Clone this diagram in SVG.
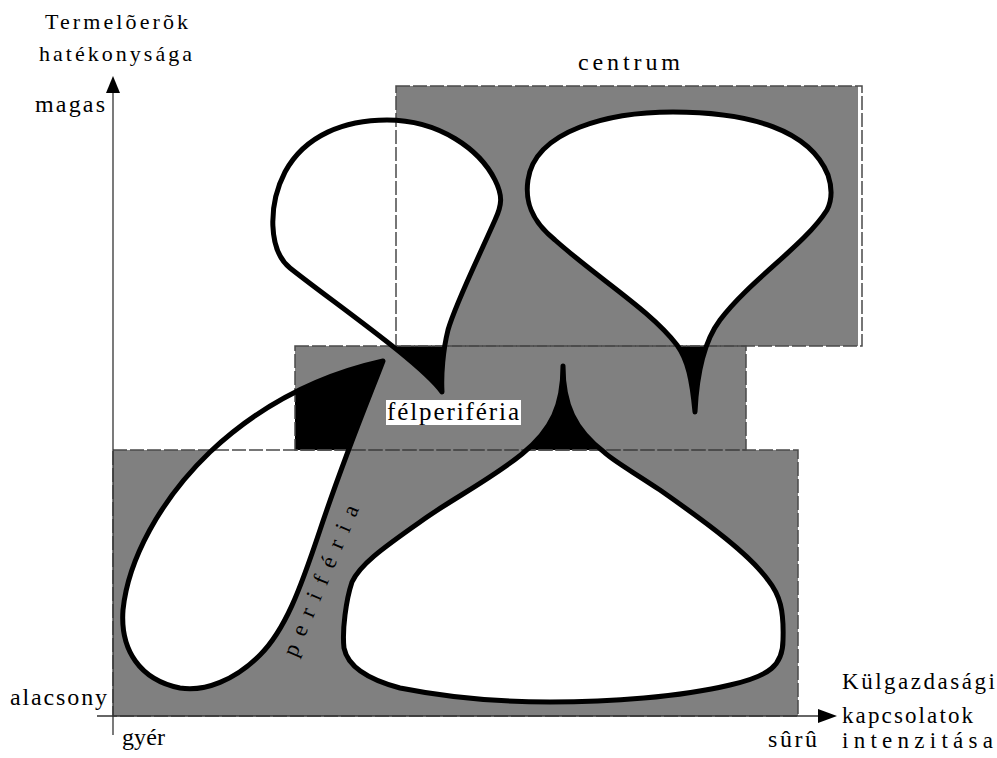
<svg xmlns="http://www.w3.org/2000/svg" width="997" height="758" viewBox="0 0 997 758">
<style>
.fill{fill:#808080;stroke:none}
.dash{fill:none;stroke:#4a4a4a;stroke-width:1.5;stroke-dasharray:14 3}
.shape{fill:#fff;stroke:none}
.blk{fill:#000;stroke:none}
.outl{fill:none;stroke:#000;stroke-width:5;stroke-linejoin:round}
.axis{stroke:#333;stroke-width:1.3;fill:none}
text{font-family:Liberation Serif, Times New Roman, DejaVu Serif, serif}
</style>
<defs>
<clipPath id="felclip"><rect x="295" y="346" width="451" height="104"/></clipPath>
<path id="pA" d="M442,392 C420,362 330,300 290,268 C268,250 268,205 285,172 C305,135 345,120 387,120 C440,120 480,150 495,180 C503,196 502,205 495,220 C475,265 455,305 448,330 C443,350 441,375 442,392 Z"/>
<path id="pB" d="M695,412 C692,380 688,360 677,345 C650,310 600,280 555,240 C530,220 525,200 528,180 C535,130 610,112 673,112 C750,112 810,130 828,175 C833,190 832,200 827,210 C805,245 750,280 720,320 C705,340 697,370 695,412 Z"/>
<path id="pC" d="M563,366 C563,405 552,430 522,454 C490,480 450,500 420,522 C380,550 360,565 352,582 C346,600 342,630 344,648 C348,668 370,680 400,688 C450,698 500,702 550,702 C610,702 680,697 730,685 C770,676 783,665 783,640 C784,610 780,595 768,580 C750,555 710,525 660,490 C630,470 612,460 604,452 C575,430 563,405 563,366 Z"/>
<path id="pD" d="M383,361 C370,395 345,455 320,530 C300,590 285,630 260,655 C235,680 205,692 180,688 C140,680 120,650 123,610 C128,560 160,500 210,452 C260,405 320,375 383,361 Z"/>
</defs>

<g id="region-fills">
<rect class="fill" x="396" y="86" width="462" height="260"/>
<rect class="fill" x="295" y="346" width="451" height="104"/>
<rect class="fill" x="113" y="450" width="685" height="266"/>
</g>

<g id="shapes-fill">
<use href="#pA" class="shape"/>
<use href="#pB" class="shape"/>
<use href="#pC" class="shape"/>
<use href="#pD" class="shape"/>
<g clip-path="url(#felclip)">
<use href="#pA" class="blk"/>
<use href="#pB" class="blk"/>
<use href="#pC" class="blk"/>
<use href="#pD" class="blk"/>
</g>
</g>

<g id="region-borders">
<rect class="dash" x="396" y="86" width="466" height="260"/>
<rect class="dash" x="295" y="346" width="451" height="104"/>
<rect class="dash" x="113" y="450" width="685" height="266"/>
</g>

<g id="shape-top-left"><use href="#pA" class="outl"/></g>
<g id="shape-top-right"><use href="#pB" class="outl"/></g>
<g id="shape-bottom"><use href="#pC" class="outl"/></g>
<g id="shape-left"><use href="#pD" class="outl"/></g>

<g id="axes">
<line class="axis" x1="113" y1="735" x2="113" y2="90"/>
<polygon points="113,76 106,93 120,93" fill="#000"/>
<line class="axis" x1="97" y1="716" x2="822" y2="716"/>
<polygon points="837,716 818,709 818,723" fill="#000"/>
</g>

<g id="labels" fill="#000">
<text x="45" y="29" font-size="22" textLength="143" lengthAdjust="spacing">Termelõerõk</text>
<text x="39" y="61" font-size="22" textLength="153" lengthAdjust="spacing">hatékonysága</text>
<text x="35" y="112" font-size="24" textLength="70" lengthAdjust="spacing">magas</text>
<text x="10" y="705" font-size="24" textLength="97" lengthAdjust="spacing">alacsony</text>
<text x="122" y="745" font-size="24" textLength="43" lengthAdjust="spacing">gyér</text>
<text x="768" y="747" font-size="24" textLength="49" lengthAdjust="spacing">sûrû</text>
<text x="842" y="689" font-size="23" textLength="153" lengthAdjust="spacing">Külgazdasági</text>
<text x="842" y="723" font-size="23" textLength="131" lengthAdjust="spacing">kapcsolatok</text>
<text x="842" y="748" font-size="23" textLength="151" lengthAdjust="spacing">intenzitása</text>
<text x="578" y="70" font-size="24" textLength="102" lengthAdjust="spacing">centrum</text>
<rect x="386" y="400" width="135" height="25" fill="#fff"/>
<text x="387" y="420" font-size="25" textLength="132" lengthAdjust="spacing">félperiféria</text>
<text font-size="23" textLength="162" lengthAdjust="spacing" transform="translate(296,658) rotate(-67)">periféria</text>
</g>
</svg>
